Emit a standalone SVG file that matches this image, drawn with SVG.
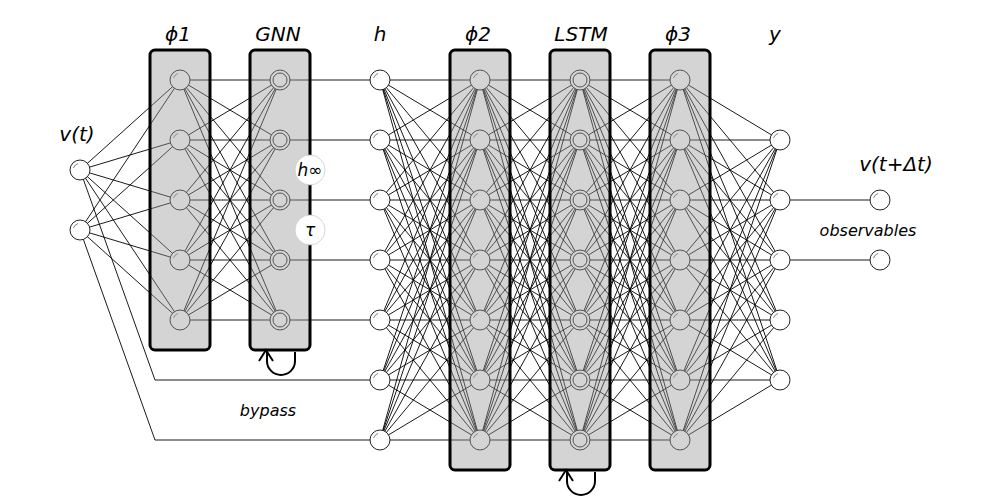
<svg xmlns="http://www.w3.org/2000/svg" xmlns:xlink="http://www.w3.org/1999/xlink" width="1000" height="500" viewBox="0 0 1000 500">
<style>
.c{fill:none;stroke:#000;stroke-width:0.9}
.box{fill:#999;fill-opacity:0.42;stroke:#000;stroke-width:3}
.lbl{font-family:"DejaVu Sans",sans-serif;font-style:italic;fill:#000}
.loop{fill:none;stroke:#000;stroke-width:2}
</style>
<defs>
<g id="n"><circle r="10" fill="#fff" stroke="#222" stroke-width="1"/><path d="M-6.5,-2 A7,7 0 0 1 -2,-6.5" fill="none" stroke="#666" stroke-width="0.8"/></g>
<g id="d"><circle r="10" fill="#fff" stroke="#222" stroke-width="1"/><circle r="7" fill="none" stroke="#222" stroke-width="1"/></g>
</defs>
<rect width="1000" height="500" fill="#fff"/>
<g id="connectors" class="c">
<path d="M80,170L180,80M80,170L180,140M80,170L180,200M80,170L180,260M80,170L180,320M80,230L180,80M80,230L180,140M80,230L180,200M80,230L180,260M80,230L180,320"/>
<path d="M80,170L155,380L380,380M80,230L155,440L380,440"/>
<path d="M180,80L280,80M180,80L280,140M180,80L280,200M180,80L280,260M180,80L280,320M180,140L280,80M180,140L280,140M180,140L280,200M180,140L280,260M180,140L280,320M180,200L280,80M180,200L280,140M180,200L280,200M180,200L280,260M180,200L280,320M180,260L280,80M180,260L280,140M180,260L280,200M180,260L280,260M180,260L280,320M180,320L280,80M180,320L280,140M180,320L280,200M180,320L280,260M180,320L280,320"/>
<path d="M280,80L380,80M280,140L380,140M280,200L380,200M280,260L380,260M280,320L380,320"/>
<path d="M380,80L480,80M380,80L480,140M380,80L480,200M380,80L480,260M380,80L480,320M380,80L480,380M380,80L480,440M380,140L480,80M380,140L480,140M380,140L480,200M380,140L480,260M380,140L480,320M380,140L480,380M380,140L480,440M380,200L480,80M380,200L480,140M380,200L480,200M380,200L480,260M380,200L480,320M380,200L480,380M380,200L480,440M380,260L480,80M380,260L480,140M380,260L480,200M380,260L480,260M380,260L480,320M380,260L480,380M380,260L480,440M380,320L480,80M380,320L480,140M380,320L480,200M380,320L480,260M380,320L480,320M380,320L480,380M380,320L480,440M380,380L480,80M380,380L480,140M380,380L480,200M380,380L480,260M380,380L480,320M380,380L480,380M380,380L480,440M380,440L480,80M380,440L480,140M380,440L480,200M380,440L480,260M380,440L480,320M380,440L480,380M380,440L480,440"/>
<path d="M480,80L580,80M480,80L580,140M480,80L580,200M480,80L580,260M480,80L580,320M480,80L580,380M480,80L580,440M480,140L580,80M480,140L580,140M480,140L580,200M480,140L580,260M480,140L580,320M480,140L580,380M480,140L580,440M480,200L580,80M480,200L580,140M480,200L580,200M480,200L580,260M480,200L580,320M480,200L580,380M480,200L580,440M480,260L580,80M480,260L580,140M480,260L580,200M480,260L580,260M480,260L580,320M480,260L580,380M480,260L580,440M480,320L580,80M480,320L580,140M480,320L580,200M480,320L580,260M480,320L580,320M480,320L580,380M480,320L580,440M480,380L580,80M480,380L580,140M480,380L580,200M480,380L580,260M480,380L580,320M480,380L580,380M480,380L580,440M480,440L580,80M480,440L580,140M480,440L580,200M480,440L580,260M480,440L580,320M480,440L580,380M480,440L580,440"/>
<path d="M580,80L680,80M580,80L680,140M580,80L680,200M580,80L680,260M580,80L680,320M580,80L680,380M580,80L680,440M580,140L680,80M580,140L680,140M580,140L680,200M580,140L680,260M580,140L680,320M580,140L680,380M580,140L680,440M580,200L680,80M580,200L680,140M580,200L680,200M580,200L680,260M580,200L680,320M580,200L680,380M580,200L680,440M580,260L680,80M580,260L680,140M580,260L680,200M580,260L680,260M580,260L680,320M580,260L680,380M580,260L680,440M580,320L680,80M580,320L680,140M580,320L680,200M580,320L680,260M580,320L680,320M580,320L680,380M580,320L680,440M580,380L680,80M580,380L680,140M580,380L680,200M580,380L680,260M580,380L680,320M580,380L680,380M580,380L680,440M580,440L680,80M580,440L680,140M580,440L680,200M580,440L680,260M580,440L680,320M580,440L680,380M580,440L680,440"/>
<path d="M680,80L780,140M680,80L780,200M680,80L780,260M680,80L780,320M680,80L780,380M680,140L780,140M680,140L780,200M680,140L780,260M680,140L780,320M680,140L780,380M680,200L780,140M680,200L780,200M680,200L780,260M680,200L780,320M680,200L780,380M680,260L780,140M680,260L780,200M680,260L780,260M680,260L780,320M680,260L780,380M680,320L780,140M680,320L780,200M680,320L780,260M680,320L780,320M680,320L780,380M680,380L780,140M680,380L780,200M680,380L780,260M680,380L780,320M680,380L780,380M680,440L780,140M680,440L780,200M680,440L780,260M680,440L780,320M680,440L780,380"/>
<path d="M780,200L880,200M780,260L880,260"/>
</g>
<g id="input"><use xlink:href="#n" x="80" y="170"/><use xlink:href="#n" x="80" y="230"/></g>
<g id="phi1"><use xlink:href="#n" x="180" y="80"/><use xlink:href="#n" x="180" y="140"/><use xlink:href="#n" x="180" y="200"/><use xlink:href="#n" x="180" y="260"/><use xlink:href="#n" x="180" y="320"/><rect class="box" x="150" y="50" width="60" height="300" rx="5"/></g>
<g id="gnn"><use xlink:href="#d" x="280" y="80"/><use xlink:href="#d" x="280" y="140"/><use xlink:href="#d" x="280" y="200"/><use xlink:href="#d" x="280" y="260"/><use xlink:href="#d" x="280" y="320"/><rect class="box" x="250" y="50" width="60" height="300" rx="5"/></g>
<g id="h"><use xlink:href="#n" x="380" y="80"/><use xlink:href="#n" x="380" y="140"/><use xlink:href="#n" x="380" y="200"/><use xlink:href="#n" x="380" y="260"/><use xlink:href="#n" x="380" y="320"/><use xlink:href="#n" x="380" y="380"/><use xlink:href="#n" x="380" y="440"/></g>
<g id="phi2"><use xlink:href="#n" x="480" y="80"/><use xlink:href="#n" x="480" y="140"/><use xlink:href="#n" x="480" y="200"/><use xlink:href="#n" x="480" y="260"/><use xlink:href="#n" x="480" y="320"/><use xlink:href="#n" x="480" y="380"/><use xlink:href="#n" x="480" y="440"/><rect class="box" x="450" y="50" width="60" height="420" rx="5"/></g>
<g id="lstm"><use xlink:href="#d" x="580" y="80"/><use xlink:href="#d" x="580" y="140"/><use xlink:href="#d" x="580" y="200"/><use xlink:href="#d" x="580" y="260"/><use xlink:href="#d" x="580" y="320"/><use xlink:href="#d" x="580" y="380"/><use xlink:href="#d" x="580" y="440"/><rect class="box" x="550" y="50" width="60" height="420" rx="5"/></g>
<g id="phi3"><use xlink:href="#n" x="680" y="80"/><use xlink:href="#n" x="680" y="140"/><use xlink:href="#n" x="680" y="200"/><use xlink:href="#n" x="680" y="260"/><use xlink:href="#n" x="680" y="320"/><use xlink:href="#n" x="680" y="380"/><use xlink:href="#n" x="680" y="440"/><rect class="box" x="650" y="50" width="60" height="420" rx="5"/></g>
<g id="y"><use xlink:href="#n" x="780" y="140"/><use xlink:href="#n" x="780" y="200"/><use xlink:href="#n" x="780" y="260"/><use xlink:href="#n" x="780" y="320"/><use xlink:href="#n" x="780" y="380"/></g>
<g id="output"><use xlink:href="#n" x="880" y="200"/><use xlink:href="#n" x="880" y="260"/></g>
<g id="hinf"><circle cx="310" cy="170" r="15" fill="#fff" stroke="#ccc" stroke-width="0.8"/><text class="lbl" x="310" y="176" font-size="17" text-anchor="middle">h∞</text></g>
<g id="tau"><circle cx="310" cy="230" r="15" fill="#fff" stroke="#ccc" stroke-width="0.8"/><text class="lbl" x="310" y="236" font-size="17" text-anchor="middle">τ</text></g>
<g id="loops" class="loop">
<path d="M295,352V361A14,14 0 0 1 267,361V351M259,361L266,350L273,361"/>
<path d="M595,472V481A14,14 0 0 1 567,481V471M559,481L566,470L573,481"/>
</g>
<g id="labels" class="lbl" font-size="20" text-anchor="middle">
<text x="178" y="41">ϕ1</text>
<text x="278" y="41">GNN</text>
<text x="380" y="41">h</text>
<text x="478" y="41">ϕ2</text>
<text x="581" y="41">LSTM</text>
<text x="678" y="41">ϕ3</text>
<text x="775" y="41">y</text>
<text x="77" y="141">v(t)</text>
<text x="896" y="171">v(t+Δt)</text>
<text x="868" y="236" font-size="16">observables</text>
<text x="268" y="416" font-size="16">bypass</text>
</g>
</svg>
